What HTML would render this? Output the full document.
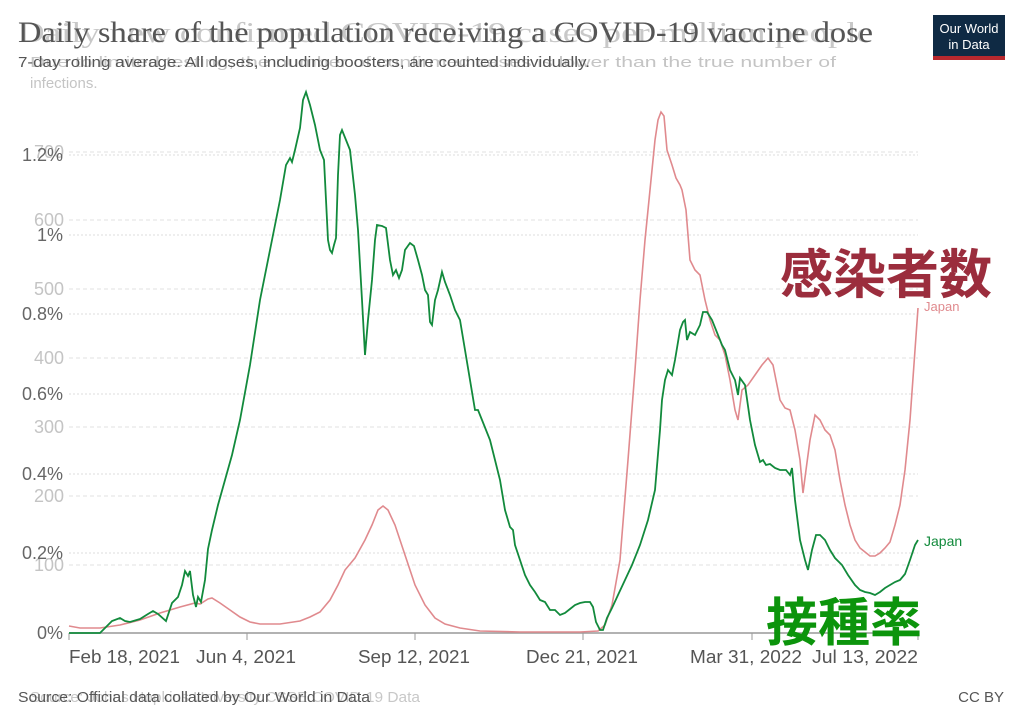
<!DOCTYPE html>
<html><head><meta charset="utf-8"><style>
html,body{margin:0;padding:0;background:#fff;}
body{width:1024px;height:723px;position:relative;overflow:hidden;font-family:"Liberation Sans","Noto Sans CJK JP",sans-serif;}
</style></head><body>
<svg width="1024" height="723" style="position:absolute;left:0;top:0" font-family="Liberation Sans, Noto Sans CJK JP, sans-serif">
<!-- ghost texts -->
<text x="18" y="42" font-family="Liberation Serif, serif" font-size="29" fill="#c8c8c8" textLength="855" lengthAdjust="spacingAndGlyphs">Daily new confirmed COVID-19 cases per million people</text>
<text x="30" y="67" font-size="15" fill="#c4c4c4" textLength="806" lengthAdjust="spacingAndGlyphs">Due to limited testing, the number of confirmed cases is lower than the true number of</text>
<text x="30" y="88" font-size="15" fill="#c4c4c4">infections.</text>
<text x="30" y="702" font-size="15" fill="#c8c8c8" textLength="390" lengthAdjust="spacingAndGlyphs">Source: Johns Hopkins University CSSE COVID-19 Data</text>
<!-- main title -->
<text x="18" y="42" font-family="Liberation Serif, serif" font-size="30" fill="#555" textLength="855" lengthAdjust="spacingAndGlyphs">Daily share of the population receiving a COVID-19 vaccine dose</text>
<text x="18" y="67" font-size="15" fill="#555" textLength="572" lengthAdjust="spacingAndGlyphs">7-day rolling average. All doses, including boosters, are counted individually.</text>
<text x="18" y="702" font-size="15" fill="#555" textLength="352" lengthAdjust="spacingAndGlyphs">Source: Official data collated by Our World in Data</text>
<text x="1004" y="702" font-size="15" fill="#555" text-anchor="end">CC BY</text>
<!-- logo -->
<rect x="933" y="15" width="72" height="41" fill="#0f2a44"/>
<rect x="933" y="56" width="72" height="4" fill="#b7282e"/>
<text x="969" y="33" font-size="13" fill="#fff" text-anchor="middle">Our World</text>
<text x="969" y="49" font-size="13" fill="#fff" text-anchor="middle">in Data</text>
<!-- pink grid (dashed) -->
<g stroke="#e2e2e2" stroke-dasharray="4,3" stroke-width="1">
<line x1="69" x2="918" y1="152" y2="152"/><line x1="69" x2="918" y1="220" y2="220"/>
<line x1="69" x2="918" y1="289" y2="289"/><line x1="69" x2="918" y1="358" y2="358"/>
<line x1="69" x2="918" y1="427" y2="427"/><line x1="69" x2="918" y1="496" y2="496"/>
<line x1="69" x2="918" y1="565" y2="565"/>
</g>
<!-- green grid (dotted) -->
<g stroke="#dcdcdc" stroke-dasharray="2,2" stroke-width="1">
<line x1="69" x2="918" y1="155" y2="155"/><line x1="69" x2="918" y1="235" y2="235"/>
<line x1="69" x2="918" y1="314" y2="314"/><line x1="69" x2="918" y1="394" y2="394"/>
<line x1="69" x2="918" y1="474" y2="474"/><line x1="69" x2="918" y1="553" y2="553"/>
</g>
<g font-size="18" fill="#c4c4c4" text-anchor="end">
<text x="64" y="158">700</text><text x="64" y="226">600</text><text x="64" y="295">500</text>
<text x="64" y="364">400</text><text x="64" y="433">300</text><text x="64" y="502">200</text><text x="64" y="571">100</text>
</g>
<g font-size="18" fill="#666" text-anchor="end">
<text x="63" y="161">1.2%</text><text x="63" y="241">1%</text><text x="63" y="320">0.8%</text>
<text x="63" y="400">0.6%</text><text x="63" y="480">0.4%</text><text x="63" y="559">0.2%</text><text x="63" y="639">0%</text>
</g>
<line x1="69" x2="918" y1="633" y2="633" stroke="#999" stroke-width="1.5"/>
<g stroke="#999"><line x1="69" x2="69" y1="633" y2="640"/><line x1="247" x2="247" y1="633" y2="640"/><line x1="415" x2="415" y1="633" y2="640"/><line x1="583" x2="583" y1="633" y2="640"/><line x1="752" x2="752" y1="633" y2="640"/><line x1="918" x2="918" y1="633" y2="640"/></g>
<g font-size="18" fill="#555">
<text x="69" y="663" textLength="111" lengthAdjust="spacingAndGlyphs">Feb 18, 2021</text>
<text x="196" y="663" textLength="100" lengthAdjust="spacingAndGlyphs">Jun 4, 2021</text>
<text x="358" y="663" textLength="112" lengthAdjust="spacingAndGlyphs">Sep 12, 2021</text>
<text x="526" y="663" textLength="112" lengthAdjust="spacingAndGlyphs">Dec 21, 2021</text>
<text x="690" y="663" textLength="112" lengthAdjust="spacingAndGlyphs">Mar 31, 2022</text>
<text x="812" y="663" textLength="106" lengthAdjust="spacingAndGlyphs">Jul 13, 2022</text>
</g>
<!-- pink series -->
<polyline fill="none" stroke="#e08a8e" stroke-width="1.6" points="69,626 80,628 100,628 120,625 140,620 160,613 180,607 195,603 200,604 208,599 212,598 220,603 230,610 240,617 250,622 260,624 280,624 300,621 310,617 320,612 330,600 338,585 345,570 355,558 365,540 372,525 378,510 383,506 388,510 395,525 405,555 415,585 425,605 435,618 445,624 460,628 480,631 520,632 580,632 598,631 605,625 612,605 620,560 628,460 635,370 640,300 645,240 650,190 655,140 658,120 661,112 664,116 667,150 672,165 676,178 680,185 682,190 686,210 690,260 695,270 700,275 705,300 710,320 715,335 720,340 725,355 730,380 735,410 738,420 742,390 748,385 755,375 762,365 768,358 773,365 776,380 780,400 785,408 790,410 795,430 800,460 803,493 806,470 810,440 815,415 820,420 825,430 830,435 835,450 840,480 845,505 850,525 855,540 860,548 865,552 870,556 875,556 880,553 885,548 890,542 895,525 900,505 905,470 910,420 915,350 918,308"/>
<!-- green series -->
<polyline fill="none" stroke="#128a3c" stroke-width="1.8" points="69,633 100,633 105,628 112,621 120,618 125,621 130,622 140,619 148,614 153,611 158,614 166,621 172,603 178,597 182,585 185,571 188,576 190,571 193,595 196,607 198,597 201,602 205,580 208,549 212,530 218,505 225,480 232,455 240,420 250,365 260,300 270,250 280,200 286,165 290,158 292,162 295,150 300,128 303,100 306,92 310,105 315,125 320,150 324,160 328,240 330,250 332,253 334,245 336,238 338,175 340,135 342,130 346,140 350,150 355,195 358,230 362,300 365,355 368,320 372,280 375,240 377,225 382,226 386,228 390,260 393,275 396,270 399,278 402,270 405,250 410,243 414,246 418,260 422,275 425,290 428,295 430,322 432,325 435,300 438,290 442,272 445,282 450,295 455,310 460,320 465,350 470,380 475,410 478,410 482,420 490,440 495,460 500,480 505,510 510,527 513,530 515,545 520,560 525,575 530,585 535,592 540,600 545,602 550,610 555,610 560,615 565,613 570,609 575,605 580,603 585,602 590,602 593,607 596,622 600,630 603,630 607,618 612,608 618,595 625,580 632,565 640,545 648,520 655,490 660,430 662,400 665,380 668,370 672,375 675,360 680,330 683,322 685,320 687,340 690,332 695,335 700,325 703,312 707,312 712,320 718,335 722,345 725,350 730,370 735,380 738,395 740,378 745,385 750,420 755,445 760,462 763,460 766,465 770,464 775,468 780,470 786,470 790,475 792,468 795,500 800,540 805,560 808,570 812,550 816,535 820,535 825,540 830,550 835,558 842,565 848,575 855,585 860,590 865,592 870,593 875,595 880,592 885,588 890,585 895,582 900,580 905,574 910,560 915,545 918,540"/>
<text x="924" y="311" font-size="13" fill="#e08a8e">Japan</text>
<text x="924" y="546" font-size="14" fill="#128a3c">Japan</text>
<text x="780" y="293" font-size="53" font-weight="bold" fill="#9b2d3d" font-family="Noto Sans CJK JP, sans-serif">感染者数</text>
<text x="766" y="641" font-size="52" font-weight="bold" fill="#0c940c" font-family="Noto Sans CJK JP, sans-serif">接種率</text>
</svg>
</body></html>
